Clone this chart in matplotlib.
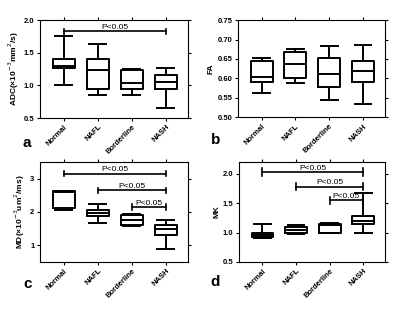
import matplotlib
matplotlib.use("Agg")
import matplotlib.pyplot as plt

plt.rcParams['font.family'] = ['Liberation Sans', 'DejaVu Sans']

groups = ["Normal", "NAFL", "Borderline", "NASH"]

# whisker low, q1, median, q3, whisker high
adc = [(1.00, 1.26, 1.30, 1.40, 1.75),
       (0.86, 0.95, 1.24, 1.41, 1.64),
       (0.85, 0.95, 1.03, 1.23, 1.25),
       (0.66, 0.94, 1.05, 1.16, 1.27)]
fa = [(0.562, 0.590, 0.603, 0.644, 0.652),
      (0.587, 0.600, 0.638, 0.668, 0.675),
      (0.545, 0.578, 0.610, 0.653, 0.683),
      (0.535, 0.590, 0.620, 0.645, 0.686)]
md = [(2.05, 2.12, 2.60, 2.62, 2.62),
      (1.68, 1.87, 1.97, 2.05, 2.23),
      (1.58, 1.60, 1.77, 1.90, 1.93),
      (0.90, 1.30, 1.48, 1.60, 1.77)]
mk = [(0.91, 0.92, 0.95, 1.00, 1.15),
      (0.97, 1.00, 1.05, 1.10, 1.12),
      (0.99, 1.00, 1.12, 1.15, 1.17),
      (0.99, 1.15, 1.20, 1.28, 1.68)]

# significance bars: (from group index, to group index, height)
adc_sig = [(0, 3, 1.83)]
fa_sig = []
md_sig = [(0, 3, 3.15), (1, 3, 2.65), (2, 3, 2.15)]
mk_sig = [(0, 3, 2.03), (1, 3, 1.78), (2, 3, 1.55)]

panels = [
    ("a", adc, adc_sig, "ADC(\u00d710$^{-3}$mm$^2$/s)", (0.5, 2.0), [0.5, 1.0, 1.5, 2.0], "%.1f",
     [0.10, 0.624, 0.37, 0.312], 0.04, (0.068, 0.545)),
    ("b", fa, fa_sig, "FA", (0.50, 0.75), [0.50, 0.55, 0.60, 0.65, 0.70, 0.75], "%.2f",
     [0.595, 0.627, 0.3675, 0.309], 0.01, (0.538, 0.553)),
    ("c", md, md_sig, "MD(\u00d710$^{-3}$um$^2$/ms)", (0.5, 3.5), [1, 2, 3], "%d",
     [0.10, 0.166, 0.37, 0.318], 0.08, (0.068, 0.095)),
    ("d", mk, mk_sig, "MK", (0.5, 2.2), [0.5, 1.0, 1.5, 2.0], "%.1f",
     [0.5975, 0.166, 0.365, 0.318], 0.06, (0.538, 0.102)),
]

fig = plt.figure(figsize=(4.0, 3.14), dpi=100)

for letter, data, sigs, ylabel, ylim, yticks, fmt, rect, cap, lpos in panels:
    ax = fig.add_axes(rect)
    stats = []
    for name, (lo, q1, med, q3, hi) in zip(groups, data):
        stats.append(dict(label=name, whislo=lo, q1=q1, med=med, q3=q3, whishi=hi, fliers=[]))
    lw = 1.4
    ax.bxp(stats, positions=range(1, 5), widths=0.65, showfliers=False,
           boxprops=dict(color="black", linewidth=lw),
           whiskerprops=dict(color="black", linewidth=lw),
           capprops=dict(color="black", linewidth=lw),
           medianprops=dict(color="black", linewidth=lw),
           capwidths=0.5)
    for i, j, h in sigs:
        x1, x2 = i + 1, j + 1
        ax.plot([x1, x2], [h, h], color="black", lw=1.2)
        ax.plot([x1, x1], [h - cap, h + cap], color="black", lw=1.2)
        ax.plot([x2, x2], [h - cap, h + cap], color="black", lw=1.2)
        ax.text((x1 + x2) / 2, h + cap * 0.1, "P<0.05", ha="center", va="bottom", fontsize=6)
    ax.set_xlim(0.3, 4.65)
    ax.set_ylim(*ylim)
    ax.set_yticks(yticks)
    ax.set_yticklabels([fmt % v for v in yticks])
    ax.set_xticks(range(1, 5))
    ax.set_xticklabels(groups, rotation=45, ha="right", rotation_mode="anchor")
    ax.tick_params(axis="both", direction="out", length=2.5, width=0.8, labelsize=5.5,
                   top=True, right=True, pad=1.5)
    for lab in ax.get_xticklabels() + ax.get_yticklabels():
        lab.set_fontweight("bold")
    ax.set_ylabel(ylabel, fontsize=6, fontweight="bold", labelpad=2)
    for s in ax.spines.values():
        s.set_linewidth(0.8)
    fig.text(lpos[0], lpos[1], letter, fontsize=11, fontweight="bold",
             ha="center", va="center")

fig.savefig("out.png", dpi=100)
